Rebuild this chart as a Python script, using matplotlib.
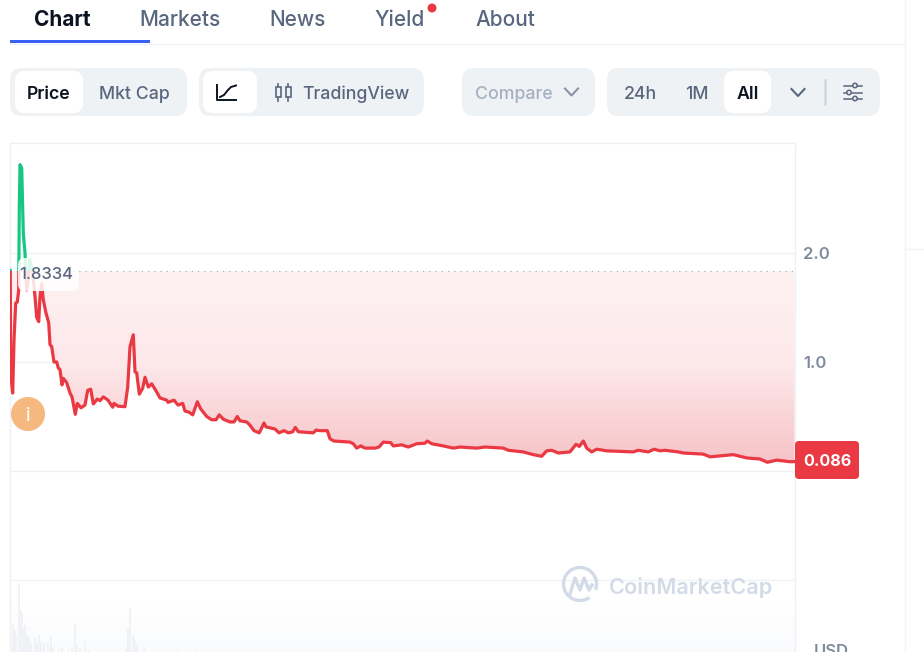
import numpy as np
import matplotlib
matplotlib.use('Agg')
import matplotlib.pyplot as plt
from matplotlib.colors import LinearSegmentedColormap
from matplotlib.patches import FancyBboxPatch, Circle, Rectangle, Arc

plt.rcParams['font.family'] = ['Inter', 'DejaVu Sans']

# price (time axis = position along the chart)
days = [10.3, 10.6, 12.7, 14, 15.7, 17.3, 18.7, 19.3, 20, 21.7, 23.3, 25, 26.7, 28, 30, 32.3, 35, 36.7, 38.7, 40,
        41.7, 43.3, 46, 48.7, 50, 51.7, 54, 56.7, 58.3, 60, 62, 63.3, 66.7, 70, 72, 75.3, 77.3, 81, 85, 87.7,
        90.7, 93.3, 97.3, 100, 103.3, 108, 112.7, 114, 118, 125, 127.7, 130, 133.3, 135, 136.7, 139.3, 142.7, 145, 148.3, 151.7,
        156.7, 160, 166.7, 168, 174, 178, 182.7, 185, 189, 192.7, 197.3, 200.7, 206.7, 211.7, 216, 219.3, 223.3, 230, 234, 237.3,
        240, 246.7, 250, 254, 259.3, 264, 266, 275, 279, 284, 288.3, 292.7, 295.3, 298.3, 313.3, 316, 320, 327.3, 330, 334,
        350, 353.3, 356.7, 360.7, 365, 375, 379, 383.3, 390.7, 393.3, 401.7, 408.3, 416.7, 425, 427.3, 431.7, 443.3, 453.3, 460, 476.7,
        485, 503.3, 508.3, 523.3, 533.3, 541.7, 546.7, 551.7, 558.3, 570, 576, 579.3, 583.3, 586.7, 591.7, 596.7, 606.7, 633.3, 638.3, 648.3,
        654, 660, 665, 678.3, 683.3, 703.3, 710, 733.3, 746.7, 760, 767.3, 776.7, 790, 794.5]
prices = [1.84, 0.90, 0.715, 1.20, 1.54, 1.55, 1.66, 2.42, 2.81, 2.78, 2.18, 2.00, 1.66, 1.75, 1.94, 1.84, 1.60, 1.41, 1.37, 1.60,
          1.72, 1.57, 1.45, 1.36, 1.16, 1.14, 1.00, 1.00, 0.945, 0.93, 0.79, 0.85, 0.81, 0.715, 0.68, 0.52, 0.62, 0.58, 0.605, 0.74,
          0.75, 0.615, 0.66, 0.645, 0.68, 0.65, 0.585, 0.62, 0.595, 0.59, 0.77, 1.14, 1.25, 0.91, 0.90, 0.705, 0.76, 0.86, 0.77, 0.80,
          0.725, 0.67, 0.65, 0.63, 0.65, 0.605, 0.62, 0.55, 0.54, 0.515, 0.635, 0.57, 0.50, 0.47, 0.47, 0.515, 0.475, 0.45, 0.45, 0.50,
          0.46, 0.45, 0.42, 0.37, 0.35, 0.44, 0.405, 0.385, 0.35, 0.37, 0.35, 0.36, 0.40, 0.36, 0.35, 0.375, 0.37, 0.37, 0.295, 0.275,
          0.265, 0.25, 0.21, 0.23, 0.21, 0.21, 0.22, 0.265, 0.26, 0.23, 0.24, 0.22, 0.25, 0.255, 0.275, 0.25, 0.23, 0.21, 0.22, 0.21,
          0.22, 0.21, 0.19, 0.175, 0.15, 0.135, 0.185, 0.19, 0.165, 0.175, 0.245, 0.225, 0.275, 0.21, 0.175, 0.20, 0.185, 0.175, 0.19, 0.175,
          0.20, 0.185, 0.19, 0.175, 0.165, 0.155, 0.13, 0.15, 0.12, 0.11, 0.08, 0.10, 0.085, 0.086]

vol_days = [10, 13, 15, 16, 19, 21, 22, 24, 25, 27, 29, 31, 35, 37, 39, 41, 44, 48, 51, 53,
            59, 62, 68, 72, 75, 77, 80, 85, 89, 126, 128, 130, 133, 135, 137, 144, 178, 196]
volumes = [24, 28, 22, 17, 68, 42, 39, 24, 27, 17, 15, 9, 15, 9, 17, 10, 9, 10, 16, 5,
           3, 4, 2, 5, 29, 8, 4, 11, 2, 3, 24, 44, 17, 12, 7, 5, 2, 2]

base_price = 1.8334
last_price = '0.086'
y_ticks = [2.0, 1.0]
y_grid = [2.0, 1.0, 0.0, -1.0]

tabs = ['Chart', 'Markets', 'News', 'Yield', 'About']
tab_x = [62, 180, 298, 400, 505]

RED = '#ea3943'
GREEN = '#16c784'
GRID = '#eff2f5'
DARK = '#0d1421'
GRAY = '#58667e'
TICK = '#808a9d'
PANEL = '#eff2f5'
MARK = '#d3dbe8'

W, H = 924, 652
fig = plt.figure(figsize=(W / 100, H / 100), dpi=100)
fig.patch.set_facecolor('white')

# chart area, from pixels to figure fractions
left, right, top, bottom = 10, 795, 143, 652
ax = fig.add_axes([left / W, 1 - bottom / H, (right - left) / W, (bottom - top) / H])
ax.set_xlim(left, right)
ax.set_ylim((471 - bottom) / 109, (471 - top) / 109)
ax.set_facecolor('white')
for s in ax.spines.values():
    s.set_color('#eef0f3')
    s.set_linewidth(1)
ax.spines['bottom'].set_visible(False)
ax.set_xticks([])
for g in y_grid:
    ax.axhline(g, color=GRID, lw=1, zorder=1)

# faint band behind the volume bars
band = LinearSegmentedColormap.from_list('band', ['#ffffff', '#fafbfd'])
ax.imshow(np.linspace(0, 1, 64).reshape(-1, 1), cmap=band, aspect='auto', zorder=0,
          extent=[left, right, ax.get_ylim()[0], (471 - 600) / 109], origin='upper')

# red gradient between the base price and the line
days_a = np.array(days)
prices_a = np.array(prices)
shape = ax.fill_between(days_a, np.minimum(prices_a, base_price), base_price, lw=0)
shape_path = shape.get_paths()[0]
shape.remove()
fade = LinearSegmentedColormap.from_list('fade', [(0, '#fef1f2'), (0.5, '#fde8ea'), (1, '#f7c4c8')])
im = ax.imshow(np.linspace(0, 1, 128).reshape(-1, 1), cmap=fade, aspect='auto', zorder=2,
               extent=[left, right, 0.09, base_price], origin='upper')
im.set_clip_path(shape_path, transform=ax.transData)
ax.set_xlim(left, right)
ax.set_ylim((471 - bottom) / 109, (471 - top) / 109)

ax.axhline(base_price, color='#a6b0c3', lw=0.9, ls=(0, (1, 4)), zorder=3)

# line: green over the base price, red under it
ymin, ymax = ax.get_ylim()
for col, y0, y1 in [(RED, ymin, base_price), (GREEN, base_price, ymax)]:
    ln, = ax.plot(days, prices, color=col, lw=2.3, zorder=4, solid_joinstyle='round')
    ln.set_clip_path(Rectangle((left, y0), right - left, y1 - y0, transform=ax.transData))

# volume
vol = ax.twinx()
vol.set_ylim(0, bottom - top)
vol.set_yticks([])
for s in vol.spines.values():
    s.set_visible(False)
vol.patch.set_visible(False)
vol.bar(vol_days, volumes, width=1.3, color='#f0f2f6', lw=0)

# twinx puts the ticks back on the left
ax.yaxis.tick_right()
ax.set_yticks(y_ticks, ['%.1f' % t for t in y_ticks])
ax.tick_params(axis='y', length=0, pad=6, labelsize=12, labelcolor=TICK)
for lab in ax.get_yticklabels():
    lab.set_fontweight('semibold')

# page furniture, drawn in pixel coordinates
ui = fig.add_axes([0, 0, 1, 1])
ui.set_xlim(0, W)
ui.set_ylim(H, 0)
ui.axis('off')
ui.patch.set_visible(False)


def box(x0, y0, x1, y1, color, r=12, **kw):
    ui.add_patch(FancyBboxPatch((x0, y0), x1 - x0, y1 - y0, boxstyle='round,pad=0,rounding_size=%g' % r,
                                fc=color, ec='none', **kw))


def label(x, y, s, color=GRAY, size=12.75, weight='medium', ha='center'):
    ui.text(x, y, s, color=color, fontsize=size, fontweight=weight, ha=ha, va='center_baseline')


# tabs
for name, x in zip(tabs, tab_x):
    active = name == 'Chart'
    label(x, 17.5, name, DARK if active else GRAY, 15, 'bold' if active else 'medium')
ui.plot([10, 904], [43.5, 43.5], color=GRID, lw=1)
ui.add_patch(Rectangle((10, 40), 140, 3, fc='#3861fb', ec='none'))
ui.add_patch(Circle((432, 8), 4.5, fc=RED, ec='none'))
ui.plot([904.5, 904.5], [0, H], color='#f2f4f7', lw=1)
ui.plot([904.5, 924], [248.5, 248.5], color='#f2f4f7', lw=1)

# button groups
box(10, 68, 187, 116, PANEL)
box(15, 71, 83, 113, 'white', 10)
label(49, 92.5, 'Price', DARK, 12.75, 'semibold')
label(134.5, 92.5, 'Mkt Cap')

box(199, 68, 424, 116, PANEL)
box(203, 71, 257, 113, 'white', 10)
ui.plot([217, 217, 236], [85, 100, 100], color=DARK, lw=1.4)
ui.plot([220, 224, 228, 231, 236], [97, 95, 90, 87, 85.5], color=DARK, lw=1.4)
for cx in [278, 288]:
    ui.plot([cx, cx], [84, 101], color=GRAY, lw=1.2)
    ui.add_patch(Rectangle((cx - 2.5, 87), 5, 10, fc=PANEL, ec=GRAY, lw=1.2, zorder=3))
label(355.5, 92.5, 'TradingView')

box(462, 68, 595, 116, PANEL)
label(513.5, 92.5, 'Compare', '#a6b0c3')
ui.plot([565, 571.5, 578], [88.5, 95.5, 88.5], color='#8a94a8', lw=1.5)

box(607, 68, 880, 116, PANEL)
box(724, 71, 771, 113, 'white', 10)
label(640.5, 92.5, '24h')
label(697, 92.5, '1M')
label(747.5, 92.5, 'All', DARK, 12.75, 'semibold')
ui.plot([791.5, 798, 804.5], [89, 96, 89], color=GRAY, lw=1.5)
ui.plot([825, 825], [80, 104], color='#cfd6e4', lw=1.8)
for ly, kx in [(85.5, 855), (92.5, 849), (98.5, 855)]:
    ui.plot([844, 862], [ly, ly], color=GRAY, lw=1.1)
    ui.add_patch(Circle((kx, ly), 2.2, fc=PANEL, ec=GRAY, lw=1.1, zorder=3))

# labels on the chart
box(18, 258, 79, 291, 'white', 7, alpha=0.85, zorder=5)
ui.text(46, 273, '%.4f' % base_price, color=GRAY, fontsize=12, fontweight='medium', ha='center', va='center_baseline', zorder=6)
box(795, 441, 859, 479, RED, 4)
label(827, 460.5, last_price, 'white', 11.6, 'bold')
ui.add_patch(Circle((28, 414), 17, fc='#f5b97f', ec='none'))
label(28, 414, 'i', 'white', 14, 'normal')
label(831.5, 650, 'USD', TICK, 12, 'semibold')

# watermark
ui.add_patch(Arc((580, 584), 33, 33, theta1=55, theta2=20, ec=MARK, lw=2.4))
ui.plot([570, 575, 580, 584, 589, 592], [594, 578, 590, 578, 590, 585], color=MARK, lw=2.4, solid_joinstyle='round')
label(690.5, 585.5, 'CoinMarketCap', MARK, 15.6, 'semibold')

fig.savefig('out.png', dpi=100)
